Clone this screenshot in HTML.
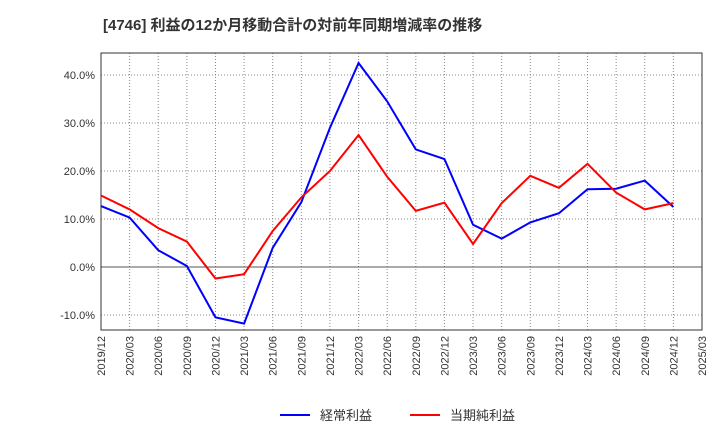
<!DOCTYPE html>
<html><head><meta charset="utf-8"><style>
body{margin:0;background:#fff;font-family:"Liberation Sans","Noto Sans CJK JP",sans-serif;}
</style></head><body>
<svg id="c" width="720" height="440" xmlns="http://www.w3.org/2000/svg">
<text x="103" y="30" font-size="15" font-weight="bold" fill="#333">[4746]  利益の12か月移動合計の対前年同期増減率の推移</text>
<g id="grid"></g><g id="axes"></g><g id="series"></g>
<g>
<line x1="280" y1="415" x2="310" y2="415" stroke="#0000ff" stroke-width="2"/>
<text x="320" y="420" font-size="13" fill="#333">経常利益</text>
<line x1="410" y1="415" x2="440" y2="415" stroke="#ff0000" stroke-width="2"/>
<text x="450" y="420" font-size="13" fill="#333">当期純利益</text>
</g>
</svg>
<script>
const categories=["2019/12","2020/03","2020/06","2020/09","2020/12","2021/03","2021/06","2021/09","2021/12","2022/03","2022/06","2022/09","2022/12","2023/03","2023/06","2023/09","2023/12","2024/03","2024/06","2024/09","2024/12","2025/03"];
const keijo=[12.7,10.3,3.5,0.2,-10.5,-11.8,4.0,13.5,29,42.5,34.5,24.5,22.5,8.8,5.9,9.3,11.2,16.2,16.3,18,12.5];
const junrieki=[14.9,12,8.1,5.3,-2.4,-1.5,7.5,14.5,20,27.5,18.8,11.7,13.4,4.8,13.3,19,16.5,21.5,15.5,12,13.3];
const yTicks=[-10,0,10,20,30,40];
const NS="http://www.w3.org/2000/svg";
const L=101,R=702,T=53,B=330;
const x=i=>L+i*(R-L)/(categories.length-1);
const y=v=>267-v*4.8;
function mk(tag,attrs,parent){const e=document.createElementNS(NS,tag);for(const k in attrs)e.setAttribute(k,attrs[k]);parent.appendChild(e);return e;}
const grid=document.getElementById('grid'),axes=document.getElementById('axes'),ser=document.getElementById('series');
const frame=mk('rect',{x:L,y:T,width:R-L,height:B-T,fill:'none',stroke:'#333'},axes);


categories.forEach((c,i)=>{
  if(i>0&&i<categories.length-1){const g=mk('line',{x1:x(i),x2:x(i),y1:T,y2:B,stroke:'#888','stroke-dasharray':'1,2'},grid);
  
  }
  const t=mk('text',{x:0,y:0,'font-size':11,fill:'#333','text-anchor':'end',transform:`translate(${x(i)+4},${B+6}) rotate(-90)`},axes);
  t.textContent=c;
  
  
});
yTicks.forEach(v=>{
  const g=mk('line',{x1:L,x2:R,y1:y(v),y2:y(v),stroke:v===0?'#555':'#888','stroke-dasharray':v===0?'':'1,2'},grid);
  
  
  const t=mk('text',{x:L-6,y:y(v)+4,'font-size':11,fill:'#333','text-anchor':'end'},axes);
  t.textContent=v.toFixed(1)+'%';
  
  
});
function line(data,color,name){
  const p=mk('polyline',{points:data.map((v,i)=>x(i)+','+y(v)).join(' '),fill:'none',stroke:color,'stroke-width':2},ser);
  
  
}
line(keijo,'#0000ff','keijo-line');
line(junrieki,'#ff0000','junrieki-line');
</script>
</body></html>
